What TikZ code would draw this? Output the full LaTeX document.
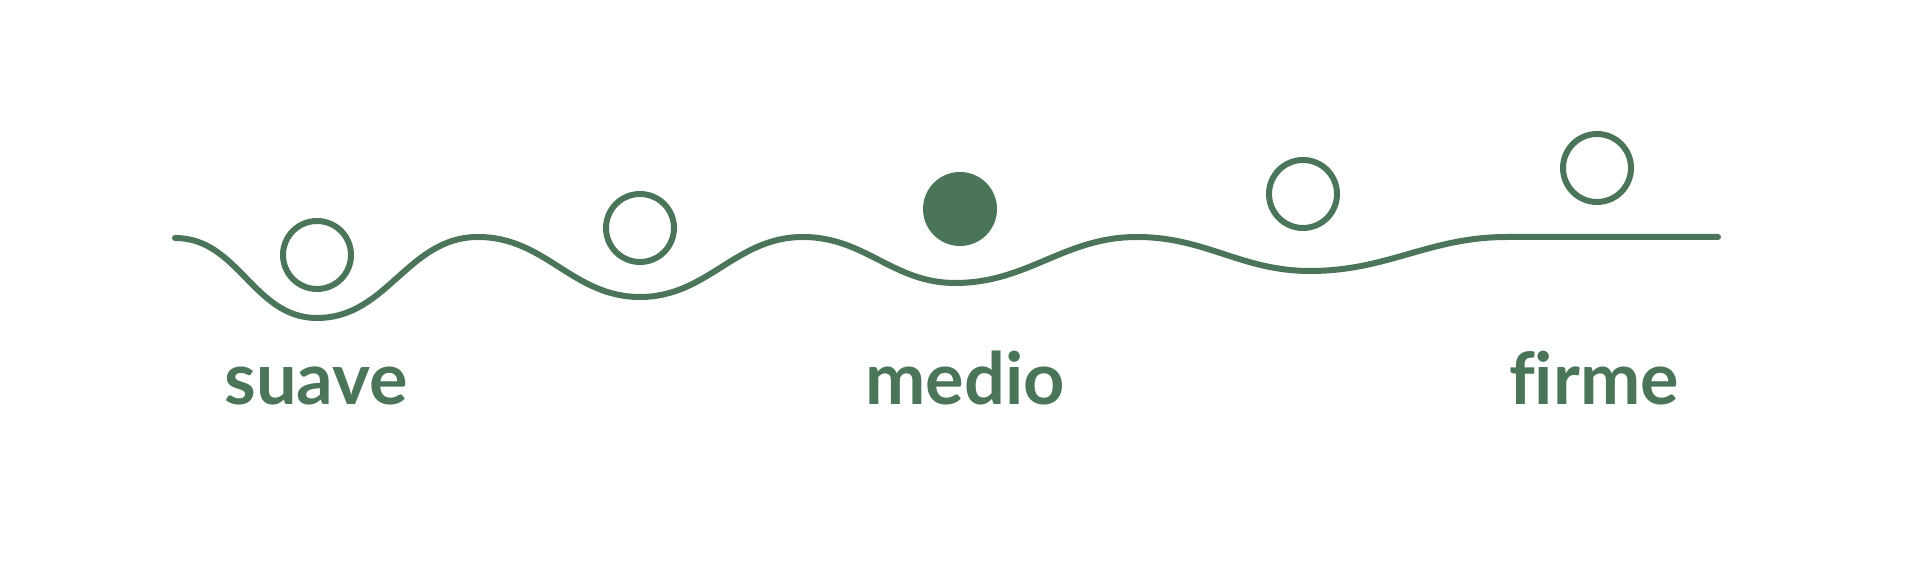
\documentclass[tikz,border=0pt]{standalone}
\usepackage{fontspec}
\newfontfamily\labelfont{Lato Bold}[Ligatures = NoCommon]
\usepackage{tikz}
\definecolor{mossgreen}{HTML}{4A7559}

\begin{document}
\begin{tikzpicture}[
    ball/.style = {circle, draw = mossgreen, line width = .06cm, minimum size = .68cm, inner sep = 0pt},
    firmness/.style = {anchor = base, text = mossgreen, inner sep = 0pt, font = \labelfont\fontsize{20.5}{24}\selectfont}
    ]
    \useasboundingbox (0, 0) rectangle (19.2, -5.81);

    %%%%%%%%%% wave %%%%%%%%%%%%%%%%%%%
    \draw [mossgreen, line width = .06cm, line cap = round]
        (1.75, -2.38) to [out = 0, in = 180] (3.17, -3.18)
        to [out = 0, in = 180] (4.78, -2.37)
        to [out = 0, in = 180] (6.40, -2.97)
        to [out = 0, in = 180] (8.03, -2.37)
        to [out = 0, in = 180] (9.55, -2.83)
        to [out = 0, in = 180] (11.37, -2.37)
        to [out = 0, in = 180] (13.10, -2.71)
        to [out = 0, in = 180] (15.07, -2.37)
        -- (17.18, -2.37);

    %%%%%%%%%% balls %%%%%%%%%%%%%%%%%%%
    \foreach \x/\y/\z in {3.17/-2.55/1, 6.40/-2.28/2, 13.03/-1.94/4, 15.97/-1.68/5} {
        \node [ball] (ball\z) at (\x, \y) {};
    }
    \node [ball, fill = mossgreen] (ball3) at (9.60, -2.09) {};

    %%%%%%%%%% labels %%%%%%%%%%%%%%%%%%%
    \node [firmness] (suave) at (3.16, -4.05) {suave};
    \node [firmness] (medio) at (9.65, -4.05) {medio};
    \node [firmness] (firme) at (15.94, -4.05) {firme};

\end{tikzpicture}
\end{document}
